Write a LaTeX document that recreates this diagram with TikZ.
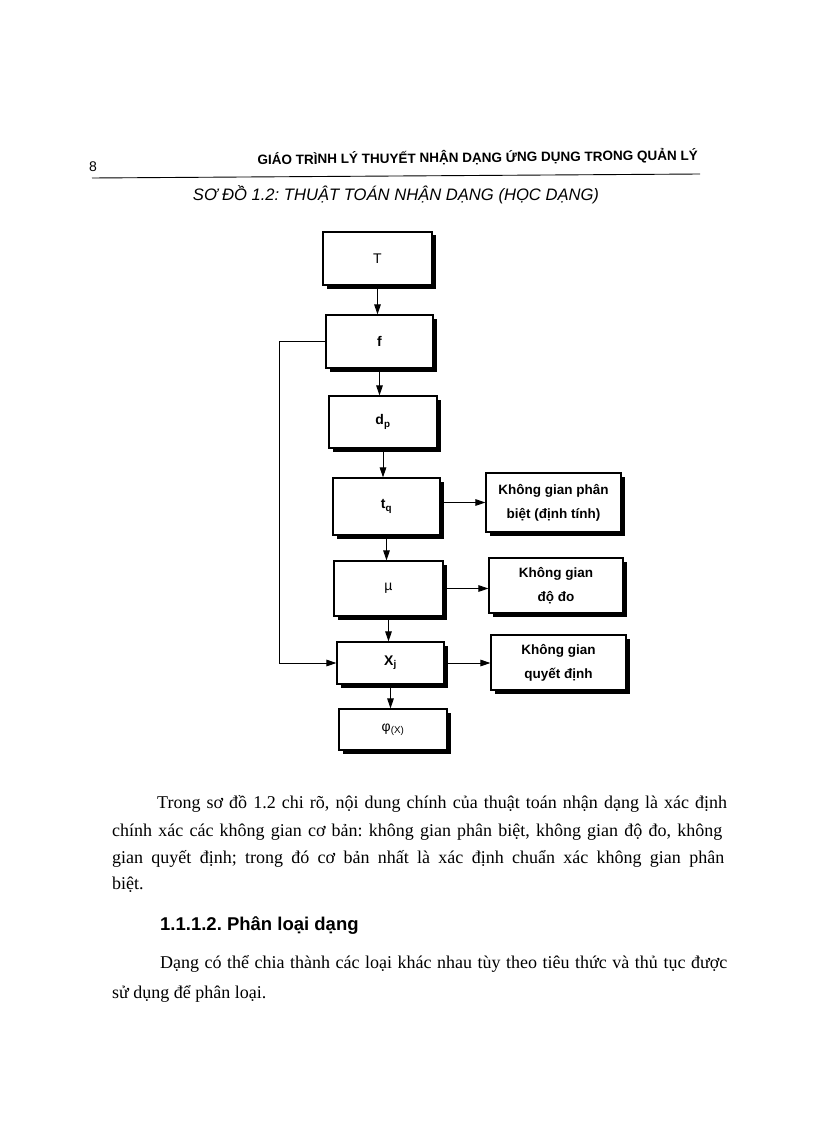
\documentclass[tikz,border=0pt]{standalone}
\usepackage{fontspec}
\setmainfont{Liberation Serif}
\setsansfont{Liberation Sans}
\usetikzlibrary{arrows.meta,shadows}
\frenchspacing
\begin{document}
\begin{tikzpicture}[x=1pt,y=-1pt,
  box/.style={draw=black,line width=1.1pt,fill=white,inner sep=0pt,
    drop shadow={shadow xshift=3.5pt,shadow yshift=-3.5pt,opacity=1,fill=black},
    font=\sffamily\fontsize{14}{16}\selectfont},
  kg/.style={box,align=center,font=\sffamily\bfseries\fontsize{13.5}{24}\selectfont},
  arr/.style={line width=0.9pt,-{Triangle[length=10pt,width=6.5pt]}},
  body/.style={anchor=base west,inner sep=0pt,font=\fontsize{18}{20}\selectfont}
]
\useasboundingbox (0,0) rectangle (816,1123);
% header
\node[anchor=base west,inner sep=0pt,font=\sffamily\fontsize{14}{15}\selectfont] (pg) at (89,172) {8};
\node[anchor=base east,inner sep=0pt,font=\sffamily\bfseries\fontsize{13.5}{15}\selectfont,rotate=0.6] (hd) at (698,160) {GIÁO TRÌNH LÝ THUYẾT NHẬN DẠNG ỨNG DỤNG TRONG QUẢN LÝ};
\draw[line width=0.9pt] (92,178) -- (700,174);
\node[anchor=base,inner sep=0pt,font=\sffamily\itshape\fontsize{16.6}{18}\selectfont] (cap) at (396,201) {SƠ ĐỒ 1.2: THUẬT TOÁN NHẬN DẠNG (HỌC DẠNG)};
% boxes
\node[box,minimum width=109pt,minimum height=53pt] (T) at (377.5,258.5) {T};
\node[box,minimum width=107pt,minimum height=53pt] (f) at (379.5,341.5) {\bfseries f};
\node[box,minimum width=108pt,minimum height=52pt] (dp) at (383,422) {\bfseries d\textsubscript{p}};
\node[box,minimum width=107pt,minimum height=57pt] (tq) at (386.5,506.5) {\bfseries t\textsubscript{q}};
\node[box,minimum width=109pt,minimum height=55pt] (mu) at (388.5,588.5) {µ};
\node[box,minimum width=107pt,minimum height=42pt] (xj) at (390.5,663) {\bfseries X\textsubscript{j}};
\node[box,minimum width=108pt,minimum height=41pt] (phi) at (393,729.5) {φ\textsubscript{(X)}};
\node[kg,minimum width=135pt,minimum height=59pt] (kg1) at (553.5,502.5) {Không gian phân\\biệt (định tính)};
\node[kg,minimum width=134pt,minimum height=55pt] (kg2) at (556,585.5) {Không gian\\độ đo};
\node[kg,minimum width=135pt,minimum height=55pt] (kg3) at (558.5,662.5) {Không gian\\quyết định};
% connectors
\draw[arr] (T.south) -- (T.south |- f.north);
\draw[arr] (f.south) -- (f.south |- dp.north);
\draw[arr] (dp.south) -- (dp.south |- tq.north);
\draw[arr] (tq.south) -- (tq.south |- mu.north);
\draw[arr] (mu.south) -- (mu.south |- xj.north);
\draw[arr] (xj.south) -- (xj.south |- phi.north);
\draw[arr] (tq.east |- kg1.west) -- (kg1.west);
\draw[arr] (mu.east) -- (mu.east -| kg2.west);
\draw[arr] (xj.east) -- (xj.east -| kg3.west);
\draw[arr] (f.west) -- ++(-46,0) |- (xj.west);
% body text
\node[body] (l1) at (157,808) {\makebox[570pt][s]{Trong sơ đồ 1.2 chi rõ, nội dung chính của thuật toán nhận dạng là xác định}};
\node[body] (l2) at (112,836) {\makebox[610pt][s]{chính xác các không gian cơ bản: không gian phân biệt, không gian độ đo, không}};
\node[body] (l3) at (112,863) {\makebox[612pt][s]{gian quyết định; trong đó cơ bản nhất là xác định chuẩn xác không gian phân}};
\node[body] (l4) at (112,889) {biệt.};
\node[anchor=base west,inner sep=0pt,font=\sffamily\bfseries\fontsize{18.5}{20}\selectfont] (h2) at (160,930) {1.1.1.2. Phân loại dạng};
\node[body] (l5) at (160,968) {\makebox[567pt][s]{Dạng có thể chia thành các loại khác nhau tùy theo tiêu thức và thủ tục được}};
\node[body] (l6) at (112,998) {sử dụng để phân loại.};
\end{tikzpicture}
\end{document}
